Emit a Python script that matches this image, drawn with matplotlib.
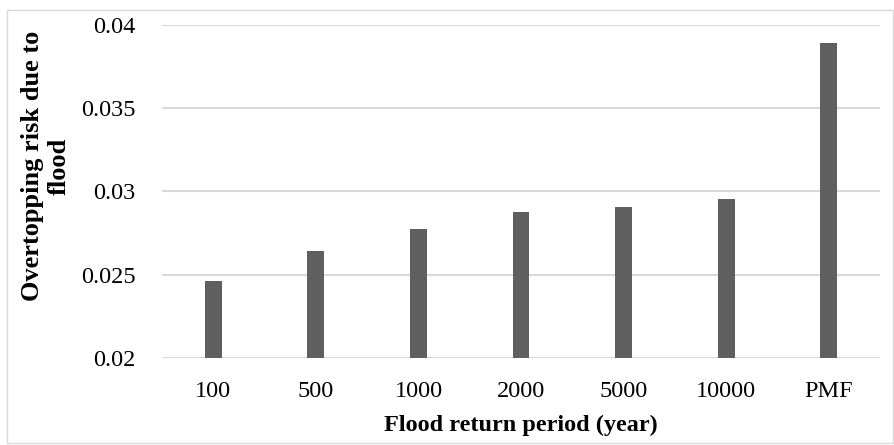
import matplotlib.pyplot as plt
from matplotlib.patches import Rectangle

periods = ['100', '500', '1000', '2000', '5000', '10000', 'PMF']
risk = [0.02461, 0.02641, 0.02775, 0.02875, 0.02907, 0.02952, 0.03889]
yticks = [0.02, 0.025, 0.03, 0.035, 0.04]
ytick_labels = ['0.02', '0.025', '0.03', '0.035', '0.04']

plt.rcParams['font.family'] = ['Liberation Serif', 'DejaVu Serif']

fig = plt.figure(figsize=(8.94, 4.45), dpi=100)
ax = fig.add_axes([162 / 894, 1 - 357.7 / 445, (880 - 162) / 894, (357.7 - 25) / 445])

x = range(len(periods))
ax.bar(x, risk, width=0.165, color='#5f5f5f', zorder=3)

ax.set_xlim(-0.5, len(periods) - 0.5)
ax.set_ylim(0.02, 0.04)
ax.set_yticks(yticks)
ax.set_yticklabels(ytick_labels)
ax.set_xticks(list(x))
ax.set_xticklabels(periods)
ax.tick_params(axis='both', length=0, labelsize=17.5, colors='black')
ax.tick_params(axis='y', pad=19)
ax.tick_params(axis='x', pad=17)
ax.grid(axis='y', color='#d9d9d9', linewidth=1.5, zorder=0)
for s in ax.spines.values():
    s.set_visible(False)

ax.set_xlabel('Flood return period (year)', fontsize=17.5, fontweight='bold', labelpad=9)
fig.text(46 / 894, 1 - 166 / 445, 'Overtopping risk due to\nflood', rotation=90,
         ha='center', va='center', fontsize=19, fontweight='bold', linespacing=1.25)

fig.patches.append(Rectangle((7 / 894, 2 / 445), 886 / 894, 433 / 445, transform=fig.transFigure,
                             fill=False, edgecolor='#d9d9d9', linewidth=1))

fig.savefig('out.png', dpi=100)
